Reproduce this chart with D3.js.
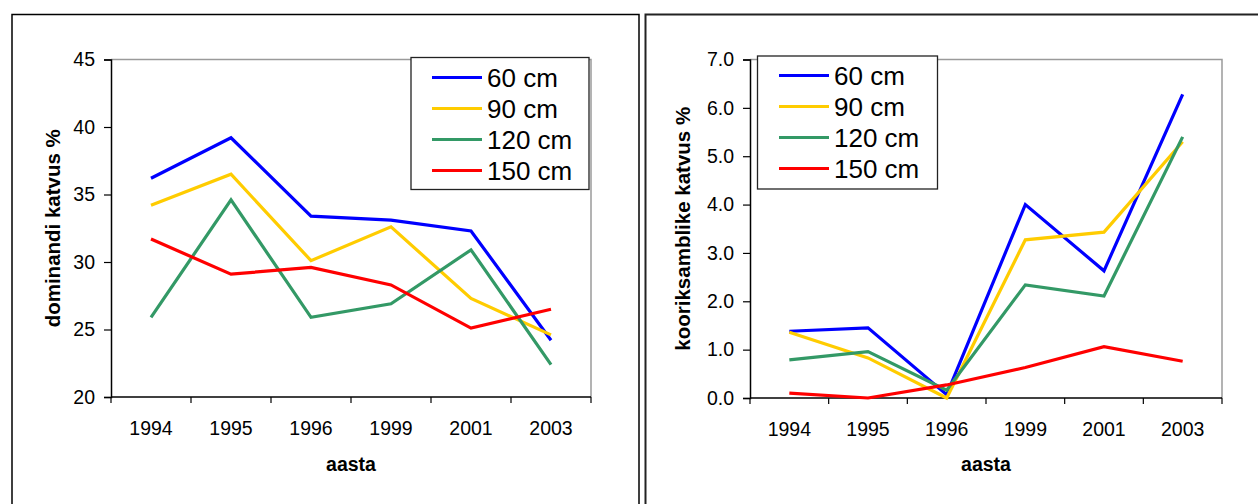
<!DOCTYPE html>
<html>
<head>
<meta charset="utf-8">
<script src="https://cdn.jsdelivr.net/npm/d3@7"></script>
<style>
  html, body { margin: 0; padding: 0; background: #fff; }
  svg { display: block; }
  text { font-family: "Liberation Sans", Arial, sans-serif; fill: #000; }
</style>
</head>
<body>
<svg id="chart" width="1258" height="504"></svg>
<script>
// ---- data ----
const years = ["1994", "1995", "1996", "1999", "2001", "2003"];
const seriesNames = ["60 cm", "90 cm", "120 cm", "150 cm"];
const seriesColors = ["#0000ff", "#ffcc00", "#339966", "#ff0000"];

// left: dominandi katvus %
const dom60  = [36.2, 39.2, 33.4, 33.1, 32.3, 24.2];
const dom90  = [34.2, 36.5, 30.1, 32.6, 27.3, 24.6];
const dom120 = [25.9, 34.6, 25.9, 26.9, 30.9, 22.4];
const dom150 = [31.7, 29.1, 29.6, 28.3, 25.1, 26.5];
const domTicks = [20, 25, 30, 35, 40, 45];

// right: kooriksamblike katvus %
const koo60  = [1.38, 1.45, 0.07, 4.00, 2.63, 6.28];
const koo90  = [1.36, 0.83, 0.00, 3.27, 3.43, 5.30];
const koo120 = [0.79, 0.96, 0.16, 2.34, 2.11, 5.40];
const koo150 = [0.10, 0.00, 0.27, 0.63, 1.06, 0.76];
const kooTicks = [0, 1, 2, 3, 4, 5, 6, 7];

const svg = d3.select("#chart");

// panel borders
svg.append("rect").attr("x", 12).attr("y", 14.5).attr("width", 627).attr("height", 520)
  .attr("fill", "none").attr("stroke", "#000").attr("stroke-width", 1.5);
svg.append("rect").attr("x", 645.5).attr("y", 14.5).attr("width", 640).attr("height", 520)
  .attr("fill", "none").attr("stroke", "#222").attr("stroke-width", 2);

function drawPanel(cfg) {
  const g = svg.append("g");
  const x = d3.scaleBand().domain(years).range([cfg.x0, cfg.x1]).padding(0);
  const y = d3.scaleLinear().domain(cfg.domain).range([cfg.y1, cfg.y0]);

  // plot frame (top & right gray)
  g.append("path")
    .attr("d", `M${cfg.x0},${cfg.y0}H${cfg.x1}V${cfg.y1}`)
    .attr("fill", "none").attr("stroke", "#9a9a9a").attr("stroke-width", 1.5);

  // y axis
  const ya = d3.axisLeft(y).tickValues(cfg.ticks).tickSize(7).tickPadding(9)
    .tickFormat(cfg.fmt);
  const yg = g.append("g").attr("transform", `translate(${cfg.x0},0)`).call(ya);
  yg.select(".domain").attr("stroke", "#000").attr("stroke-width", 1.5);
  yg.selectAll(".tick line").attr("stroke", "#000").attr("stroke-width", 1.2);
  yg.selectAll("text").style("font-size", "19.5px").attr("fill", "#000");

  // x axis with ticks at band boundaries
  const xg = g.append("g").attr("transform", `translate(0,${cfg.y1})`);
  xg.append("line").attr("x1", cfg.x0).attr("x2", cfg.x1).attr("y1", 0).attr("y2", 0)
    .attr("stroke", "#000").attr("stroke-width", 1.5);
  const bounds = years.map(d => x(d)).concat([x(years[years.length - 1]) + x.bandwidth()]);
  xg.selectAll("line.tk").data(bounds).enter().append("line").attr("class", "tk")
    .attr("x1", d => d).attr("x2", d => d).attr("y1", 0).attr("y2", 6)
    .attr("stroke", "#000").attr("stroke-width", 1.2);
  xg.selectAll("text").data(years).enter().append("text")
    .attr("x", d => x(d) + x.bandwidth() / 2).attr("y", 38)
    .attr("text-anchor", "middle").style("font-size", "19.5px").text(d => d);

  // axis titles
  g.append("text").attr("x", (cfg.x0 + cfg.x1) / 2).attr("y", 471)
    .attr("text-anchor", "middle").style("font-size", "19.5px").style("font-weight", "bold")
    .text("aasta");
  g.append("text")
    .attr("transform", `translate(${cfg.ylabX},${(cfg.y0 + cfg.y1) / 2}) rotate(-90)`)
    .attr("text-anchor", "middle").style("font-size", "20.5px").style("font-weight", "bold")
    .text(cfg.ylabel);

  // lines
  const line = d3.line().x((d, i) => x(years[i]) + x.bandwidth() / 2).y(d => y(d));
  cfg.series.forEach((s, i) => {
    g.append("path").datum(s).attr("d", line).attr("fill", "none")
      .attr("stroke", seriesColors[i]).attr("stroke-width", 3.2)
      .attr("stroke-linejoin", "miter");
  });

  // legend
  const L = cfg.legend;
  const lg = g.append("g");
  lg.append("rect").attr("x", L.x).attr("y", L.y).attr("width", L.w).attr("height", L.h)
    .attr("fill", "#fff").attr("stroke", "#222").attr("stroke-width", 1.3);
  seriesNames.forEach((n, i) => {
    const cy = L.rowY + i * L.dy;
    lg.append("line").attr("x1", L.lx0).attr("x2", L.lx1).attr("y1", cy).attr("y2", cy)
      .attr("stroke", seriesColors[i]).attr("stroke-width", 3.2);
    lg.append("text").attr("x", L.tx).attr("y", cy).attr("dy", "0.36em")
      .style("font-size", "26px").text(n);
  });
}

drawPanel({
  x0: 111, x1: 591, y0: 59.5, y1: 397,
  domain: [20, 45], ticks: domTicks, fmt: d3.format("d"),
  ylabel: "dominandi katvus %", ylabX: 60,
  series: [dom60, dom90, dom120, dom150],
  legend: { x: 411, y: 57.5, w: 178, h: 132, lx0: 432, lx1: 482, tx: 487, rowY: 77.5, dy: 31 }
});

drawPanel({
  x0: 750, x1: 1222, y0: 59.5, y1: 398,
  domain: [0, 7], ticks: kooTicks, fmt: d3.format(".1f"),
  ylabel: "kooriksamblike katvus %", ylabX: 690,
  series: [koo60, koo90, koo120, koo150],
  legend: { x: 757.5, y: 56, w: 180, h: 133, lx0: 779, lx1: 829, tx: 834, rowY: 75.5, dy: 31 }
});
</script>
</body>
</html>
